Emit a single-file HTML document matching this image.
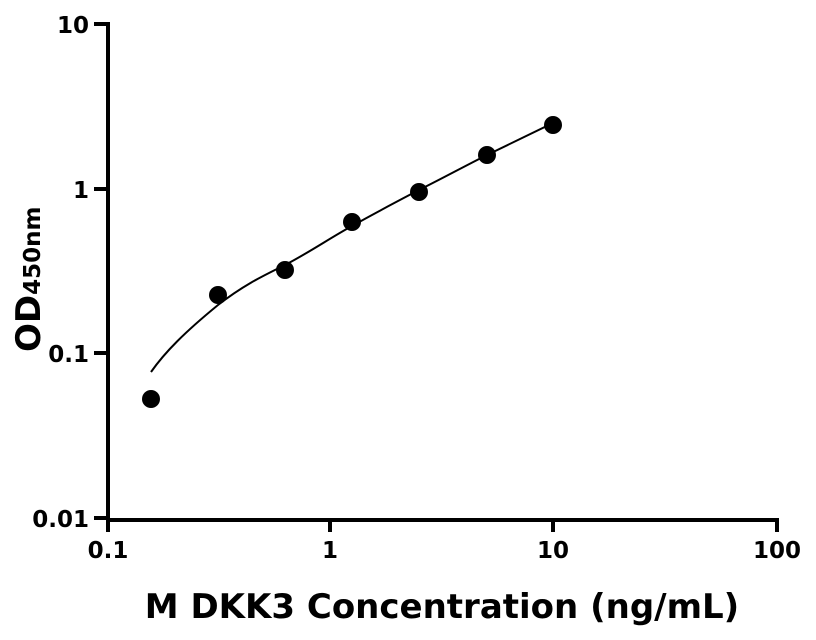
<!DOCTYPE html>
<html><head><style>body{margin:0;background:#fff}svg{display:block}</style></head><body>
<svg width="816" height="640" xmlns="http://www.w3.org/2000/svg" font-family="DejaVu Sans, sans-serif" font-weight="bold">
<g stroke="#000" stroke-width="4" fill="none">
<path d="M108 22 V520 M106 520 H779"/>
<path d="M94 24 H108 M94 189 H108 M94 353 H108 M94 518 H108"/>
<path d="M108 518 V532 M330 518 V532 M553 518 V532 M777 518 V532"/>
</g>
<g font-size="23" text-anchor="end">
<text x="89" y="33">10</text>
<text x="89" y="198">1</text>
<text x="89" y="362">0.1</text>
<text x="89" y="527">0.01</text>
</g>
<g font-size="23" text-anchor="middle">
<text x="108" y="558">0.1</text>
<text x="330" y="558">1</text>
<text x="553" y="558">10</text>
<text x="777" y="558">100</text>
</g>
<text x="442" y="618" font-size="34" text-anchor="middle">M DKK3 Concentration (ng/mL)</text>
<text transform="translate(40,352) rotate(-90)" font-size="34">OD<tspan font-size="23">450nm</tspan></text>
<path d="M151 372 C165 352 185 332 218 305 C245 284 265 275 285 265 C310 252 330 238 352 226 C375 213 400 200 419 190 C445 177 465 166 487 155 C510 144 530 134 553 123" stroke="#000" stroke-width="2" fill="none"/>
<g fill="#000">
<circle cx="151" cy="399" r="9"/>
<circle cx="218" cy="295" r="9"/>
<circle cx="285" cy="270" r="9"/>
<circle cx="352" cy="222" r="9"/>
<circle cx="419" cy="192" r="9"/>
<circle cx="487" cy="155" r="9"/>
<circle cx="553" cy="125" r="9"/>
</g>
</svg>
</body></html>
